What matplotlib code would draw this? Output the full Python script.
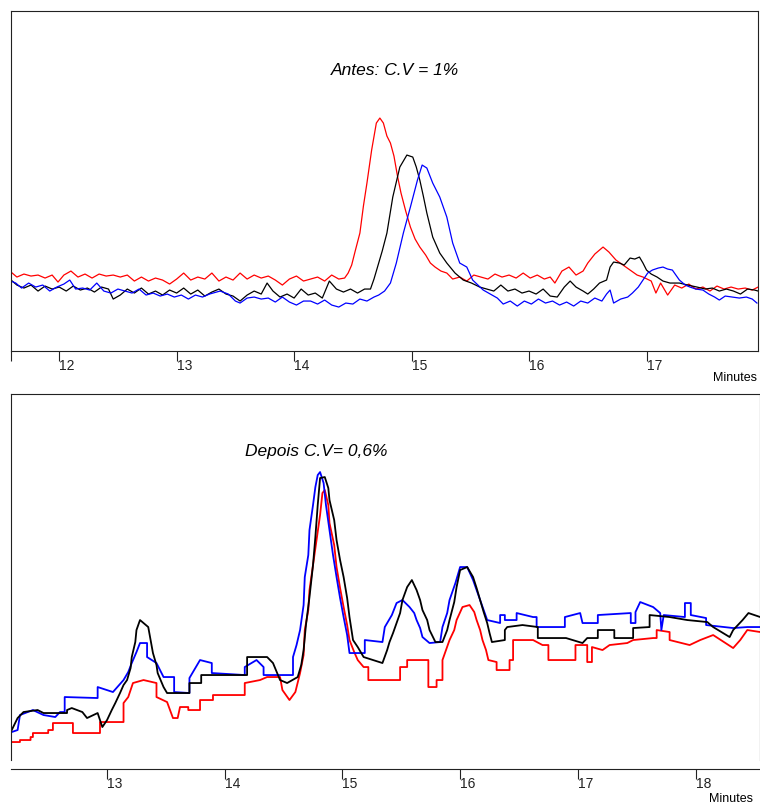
import matplotlib
matplotlib.use("Agg")
from matplotlib import pyplot as plt

plt.rcParams['font.family'] = ['Liberation Sans', 'DejaVu Sans']

# ---- painel de cima: Antes (minutos, sinal) ----
red_top_t = [11.59, 11.64, 11.70, 11.76, 11.82, 11.88, 11.94, 11.99, 12.04, 12.10, 12.16, 12.22,
             12.28, 12.34, 12.40, 12.46, 12.52, 12.58, 12.64, 12.70, 12.76, 12.82, 12.88, 12.94,
             13.00, 13.06, 13.12, 13.18, 13.24, 13.30, 13.36, 13.42, 13.48, 13.54, 13.60, 13.66,
             13.72, 13.78, 13.84, 13.90, 13.96, 14.02, 14.08, 14.14, 14.20, 14.26, 14.32, 14.38,
             14.43, 14.46, 14.49, 14.52, 14.56, 14.59, 14.62, 14.66, 14.70, 14.73, 14.76, 14.79,
             14.82, 14.85, 14.88, 14.91, 14.95, 14.99, 15.03, 15.07, 15.12, 15.16, 15.20, 15.25,
             15.30, 15.35, 15.41, 15.47, 15.53, 15.59, 15.65, 15.71, 15.77, 15.83, 15.89, 15.95,
             16.01, 16.07, 16.13, 16.18, 16.22, 16.28, 16.34, 16.40, 16.46, 16.50, 16.56, 16.63,
             16.68, 16.74, 16.80, 16.86, 16.92, 16.97, 17.04, 17.08, 17.12, 17.18, 17.24, 17.30,
             17.36, 17.42, 17.48, 17.54, 17.60, 17.66, 17.72, 17.78, 17.84, 17.90, 17.95]
red_top_v = [79, 74, 77, 75, 76, 73, 76, 69, 76, 80, 74, 77,
             73, 77, 75, 76, 74, 76, 70, 74, 70, 73, 71, 67,
             72, 78, 71, 74, 72, 78, 70, 74, 71, 78, 72, 76,
             73, 75, 71, 66, 72, 75, 70, 72, 74, 70, 76, 72,
             73, 78, 86, 100, 118, 145, 168, 201, 228, 233, 228, 215,
             208, 195, 175, 158, 140, 124, 112, 104, 96, 88, 84, 80,
             78, 72, 74, 70, 76, 74, 72, 77, 74, 76, 73, 78,
             73, 76, 72, 74, 68, 80, 84, 76, 80, 88, 97, 104,
             99, 91, 86, 81, 76, 74, 70, 58, 68, 56, 66, 63,
             67, 62, 64, 60, 65, 62, 64, 62, 63, 61, 64]

black_top_t = [11.59, 11.64, 11.70, 11.76, 11.82, 11.88, 11.94, 12.00, 12.06, 12.12, 12.18, 12.24,
               12.30, 12.36, 12.42, 12.46, 12.52, 12.58, 12.64, 12.70, 12.76, 12.82, 12.88, 12.94,
               13.00, 13.06, 13.12, 13.18, 13.24, 13.30, 13.36, 13.42, 13.48, 13.54, 13.60, 13.66,
               13.72, 13.77, 13.82, 13.88, 13.94, 14.00, 14.06, 14.12, 14.18, 14.24, 14.30, 14.36,
               14.42, 14.48, 14.54, 14.60, 14.65, 14.68, 14.71, 14.75, 14.79, 14.84, 14.90, 14.96,
               15.01, 15.04, 15.07, 15.10, 15.13, 15.18, 15.24, 15.30, 15.37, 15.44, 15.51, 15.58,
               15.64, 15.70, 15.76, 15.82, 15.88, 15.94, 16.00, 16.06, 16.12, 16.18, 16.24, 16.30,
               16.35, 16.40, 16.46, 16.50, 16.55, 16.60, 16.66, 16.69, 16.72, 16.77, 16.81, 16.86,
               16.90, 16.94, 16.97, 17.00, 17.04, 17.09, 17.14, 17.20, 17.28, 17.35, 17.43, 17.50,
               17.56, 17.62, 17.68, 17.74, 17.80, 17.86, 17.92, 17.95]
black_top_v = [71, 66, 63, 66, 60, 65, 62, 64, 60, 65, 61, 63,
               59, 64, 62, 52, 56, 62, 58, 63, 57, 60, 56, 61,
               58, 63, 57, 61, 55, 59, 62, 57, 55, 50, 56, 60,
               57, 68, 60, 54, 57, 53, 62, 56, 58, 53, 70, 62,
               59, 62, 58, 62, 62, 72, 84, 100, 118, 154, 184, 196,
               194, 184, 171, 155, 138, 114, 98, 88, 78, 71, 68, 64,
               62, 60, 66, 60, 62, 58, 60, 57, 62, 55, 54, 64,
               70, 64, 60, 57, 62, 68, 71, 84, 89, 88, 86, 93,
               92, 94, 88, 81, 77, 74, 70, 68, 68, 66, 64, 62,
               63, 60, 62, 60, 57, 62, 61, 60]

blue_top_t = [11.59, 11.63, 11.68, 11.74, 11.80, 11.86, 11.92, 11.98, 12.04, 12.09, 12.14, 12.20,
              12.26, 12.32, 12.38, 12.44, 12.50, 12.56, 12.62, 12.68, 12.74, 12.80, 12.86, 12.92,
              12.98, 13.04, 13.10, 13.16, 13.22, 13.28, 13.37, 13.44, 13.50, 13.54, 13.60, 13.66,
              13.72, 13.78, 13.84, 13.90, 13.96, 14.02, 14.08, 14.14, 14.20, 14.26, 14.32, 14.38,
              14.44, 14.50, 14.56, 14.62, 14.68, 14.72, 14.77, 14.82, 14.87, 14.93, 14.99, 15.05,
              15.09, 15.13, 15.18, 15.24, 15.30, 15.35, 15.41, 15.47, 15.52, 15.61, 15.67, 15.73,
              15.78, 15.84, 15.90, 15.96, 16.02, 16.08, 16.14, 16.20, 16.26, 16.32, 16.38, 16.44,
              16.50, 16.56, 16.62, 16.66, 16.69, 16.72, 16.78, 16.84, 16.88, 16.93, 16.97, 17.01,
              17.05, 17.10, 17.14, 17.18, 17.22, 17.25, 17.28, 17.33, 17.37, 17.42, 17.48, 17.53,
              17.58, 17.62, 17.67, 17.73, 17.79, 17.85, 17.90, 17.94]
blue_top_v = [70, 68, 63, 68, 64, 66, 60, 64, 67, 71, 62, 63,
              61, 68, 60, 58, 62, 60, 58, 62, 56, 58, 55, 57,
              54, 56, 52, 56, 54, 57, 60, 57, 50, 48, 53, 54,
              52, 53, 49, 54, 49, 46, 50, 50, 47, 51, 46, 44,
              48, 47, 52, 50, 54, 56, 60, 68, 88, 118, 144, 171,
              186, 183, 168, 154, 134, 108, 88, 84, 71, 61, 57, 53,
              47, 50, 45, 50, 47, 52, 48, 50, 46, 49, 45, 50,
              48, 53, 50, 57, 61, 48, 52, 54, 58, 64, 71, 78,
              81, 83, 84, 82, 81, 76, 71, 66, 64, 62, 61, 57,
              54, 51, 55, 54, 53, 54, 52, 48]

# ---- painel de baixo: Depois (vertices do traco, minutos / sinal) ----
red_bot_t = [12.18, 12.26, 12.26, 12.35, 12.35, 12.37, 12.37, 12.50, 12.50, 12.54, 12.54, 12.71,
             12.71, 12.94, 12.94, 13.14, 13.14, 13.18, 13.22, 13.31, 13.42, 13.42, 13.51, 13.56,
             13.60, 13.62, 13.69, 13.69, 13.79, 13.79, 13.90, 13.90, 14.17, 14.17, 14.30, 14.36,
             14.47, 14.49, 14.55, 14.60, 14.64, 14.67, 14.68, 14.71, 14.72, 14.75, 14.78, 14.81,
             14.83, 14.85, 14.88, 14.89, 14.93, 14.95, 14.98, 15.01, 15.04, 15.06, 15.10, 15.13,
             15.18, 15.22, 15.22, 15.49, 15.49, 15.55, 15.55, 15.73, 15.73, 15.80, 15.80, 15.85,
             15.85, 15.88, 15.91, 15.95, 15.97, 16.02, 16.08, 16.12, 16.14, 16.17, 16.19, 16.22,
             16.24, 16.31, 16.31, 16.42, 16.42, 16.45, 16.45, 16.62, 16.70, 16.75, 16.75, 16.98,
             16.98, 17.08, 17.08, 17.12, 17.12, 17.21, 17.27, 17.42, 17.47, 17.64, 17.67, 17.67,
             17.78, 17.78, 17.95, 18.04, 18.15, 18.32, 18.38, 18.44, 18.55]
red_bot_v = [18, 18, 20, 20, 23, 23, 27, 27, 30, 30, 37, 37,
             27, 27, 38, 38, 57, 63, 77, 80, 77, 63, 58, 42,
             42, 53, 53, 50, 50, 60, 60, 65, 65, 77, 80, 83,
             83, 70, 60, 68, 87, 105, 130, 150, 170, 195, 220, 245,
             267, 270, 255, 237, 215, 193, 172, 153, 135, 120, 108, 100,
             93, 93, 80, 80, 93, 93, 100, 100, 73, 73, 80, 80,
             100, 110, 120, 130, 140, 153, 155, 148, 140, 130, 120, 110,
             100, 98, 90, 90, 100, 100, 120, 120, 115, 115, 100, 100,
             115, 115, 98, 98, 113, 110, 115, 117, 120, 122, 122, 130,
             128, 120, 115, 120, 125, 112, 120, 130, 128]

black_bot_t = [12.19, 12.24, 12.29, 12.41, 12.46, 12.66, 12.66, 12.70, 12.79, 12.83, 12.92, 12.96,
               13.00, 13.04, 13.07, 13.11, 13.14, 13.17, 13.20, 13.21, 13.24, 13.25, 13.28, 13.35,
               13.37, 13.39, 13.42, 13.43, 13.48, 13.51, 13.70, 13.70, 13.80, 13.80, 14.19, 14.19,
               14.36, 14.41, 14.47, 14.53, 14.62, 14.65, 14.67, 14.69, 14.72, 14.75, 14.77, 14.79,
               14.81, 14.85, 14.88, 14.89, 14.93, 14.95, 14.98, 15.01, 15.04, 15.06, 15.09, 15.13,
               15.18, 15.34, 15.38, 15.40, 15.43, 15.46, 15.49, 15.51, 15.55, 15.59, 15.63, 15.66,
               15.68, 15.72, 15.74, 15.79, 15.85, 15.89, 15.91, 15.95, 15.97, 16.00, 16.06, 16.11,
               16.14, 16.17, 16.20, 16.23, 16.25, 16.27, 16.38, 16.38, 16.40, 16.53, 16.66, 16.66,
               16.90, 17.04, 17.08, 17.17, 17.17, 17.31, 17.31, 17.47, 17.47, 17.61, 17.61, 17.78,
               17.93, 18.10, 18.15, 18.29, 18.32, 18.40, 18.45, 18.55]
black_bot_v = [30, 42, 48, 50, 47, 47, 50, 52, 48, 42, 47, 33,
               40, 50, 57, 67, 75, 80, 92, 103, 118, 130, 140, 133,
               120, 107, 95, 87, 73, 67, 67, 77, 77, 85, 85, 103,
               103, 97, 80, 77, 83, 95, 110, 135, 163, 195, 223, 255,
               282, 283, 272, 260, 240, 220, 200, 183, 162, 143, 120, 113,
               103, 97, 110, 118, 127, 137, 147, 160, 173, 180, 170, 160,
               150, 140, 130, 118, 118, 130, 140, 158, 173, 190, 193, 183,
               172, 160, 148, 137, 127, 118, 120, 130, 133, 135, 133, 122,
               122, 117, 122, 122, 130, 130, 122, 122, 132, 133, 145, 143,
               140, 138, 133, 123, 130, 140, 147, 143]

blue_bot_t = [12.19, 12.24, 12.26, 12.37, 12.46, 12.56, 12.60, 12.64, 12.64, 12.92, 12.92, 13.05,
              13.14, 13.18, 13.21, 13.25, 13.28, 13.34, 13.34, 13.42, 13.48, 13.57, 13.57, 13.70,
              13.70, 13.79, 13.89, 13.89, 14.17, 14.17, 14.27, 14.33, 14.33, 14.58, 14.58, 14.61,
              14.64, 14.67, 14.68, 14.71, 14.72, 14.75, 14.77, 14.79, 14.81, 14.84, 14.86, 14.89,
              14.92, 14.95, 14.98, 15.01, 15.04, 15.06, 15.19, 15.19, 15.34, 15.36, 15.42, 15.46,
              15.51, 15.57, 15.61, 15.63, 15.66, 15.68, 15.74, 15.83, 15.85, 15.89, 15.91, 15.96,
              16.00, 16.06, 16.11, 16.14, 16.17, 16.20, 16.23, 16.34, 16.34, 16.38, 16.38, 16.48,
              16.48, 16.62, 16.65, 16.65, 16.89, 16.89, 17.02, 17.04, 17.17, 17.17, 17.45, 17.45,
              17.49, 17.49, 17.53, 17.64, 17.70, 17.71, 17.73, 17.91, 17.91, 17.96, 17.96, 18.09,
              18.09, 18.32, 18.44, 18.55]
blue_bot_v = [28, 30, 45, 50, 45, 43, 48, 48, 63, 62, 73, 68,
              80, 88, 97, 108, 117, 117, 103, 97, 83, 83, 68, 67,
              82, 100, 97, 87, 85, 93, 100, 93, 85, 85, 103, 115,
              130, 155, 183, 205, 230, 255, 273, 285, 288, 277, 255, 230,
              205, 183, 162, 143, 125, 107, 107, 120, 118, 133, 145, 157,
              160, 153, 147, 140, 132, 123, 117, 118, 133, 147, 160, 177,
              193, 193, 180, 170, 160, 150, 140, 137, 145, 145, 140, 140,
              147, 143, 143, 133, 133, 143, 147, 137, 137, 145, 147, 137,
              137, 148, 158, 153, 147, 130, 145, 143, 157, 157, 145, 142,
              135, 132, 133, 133]

fig = plt.figure(figsize=(7.6, 8.07), dpi=100)

ax1 = fig.add_axes([0.0145, 0.565, 0.983, 0.4213])
ax1.plot(red_top_t, red_top_v, color='#ff0000', lw=0.9)
ax1.plot(black_top_t, black_top_v, color='#000000', lw=0.9)
ax1.plot(blue_top_t, blue_top_v, color='#0000ff', lw=0.9)
ax1.set_xlim(11.59, 17.95)
ax1.set_ylim(0, 340)
ax1.set_xticks([12, 13, 14, 15, 16, 17])
ax1.set_xticks([11.59], minor=True)
ax1.text(0.514, 0.826, 'Antes: C.V = 1%', transform=ax1.transAxes, ha='center', va='center',
         fontsize=12.5, style='italic')
ax1.text(0.9987, -0.079, 'Minutes', transform=ax1.transAxes, ha='right', va='center', fontsize=9)

ax2 = fig.add_axes([0.0145, 0.0582, 0.9855, 0.4535])
ax2.plot(red_bot_t, red_bot_v, color='#ff0000', lw=1.3)
ax2.plot(blue_bot_t, blue_bot_v, color='#0000ff', lw=1.3)
ax2.plot(black_bot_t, black_bot_v, color='#000000', lw=1.3)
ax2.set_xlim(12.184, 18.548)
ax2.set_ylim(0, 366)
ax2.set_xticks([13, 14, 15, 16, 17, 18])
ax2.spines['bottom'].set_position(('outward', 6.5))
ax2.text(0.407, 0.842, 'Depois C.V= 0,6%', transform=ax2.transAxes, ha='center', va='center',
         fontsize=12.5, style='italic')
ax2.text(0.991, -0.107, 'Minutes', transform=ax2.transAxes, ha='right', va='center', fontsize=9)

for ax in (ax1, ax2):
    ax.set_yticks([])
    for s in ax.spines.values():
        s.set_color('#222222')
        s.set_linewidth(0.8)
    ax.tick_params(axis='x', which='both', direction='out', length=7, width=0.8, pad=-1,
                   labelsize=10, colors='#222222')
    for lab in ax.get_xticklabels():
        lab.set_horizontalalignment('left')

fig.savefig('out.png', dpi=100)
